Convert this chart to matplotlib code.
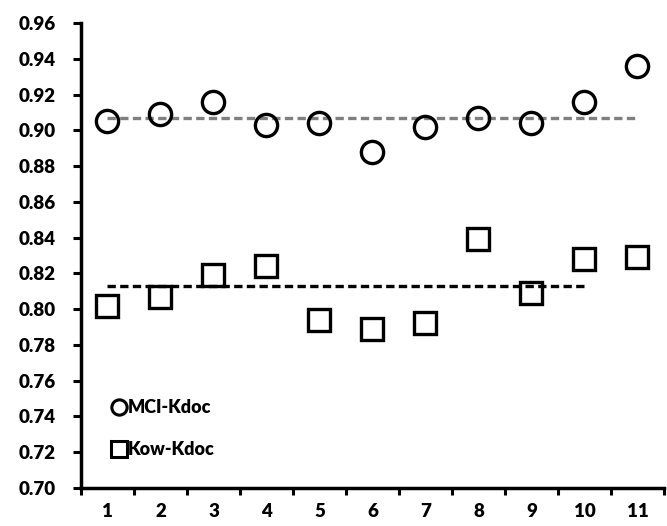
import matplotlib.pyplot as plt
from matplotlib.lines import Line2D
from matplotlib.ticker import FixedLocator, FormatStrFormatter

plt.rcParams['font.family'] = ['Lato', 'DejaVu Sans']

categories = list(range(1, 12))
mci_kdoc = [0.905, 0.909, 0.916, 0.903, 0.904, 0.888, 0.902, 0.907, 0.904, 0.916, 0.936]
kow_kdoc = [0.802, 0.807, 0.819, 0.824, 0.794, 0.789, 0.792, 0.839, 0.809, 0.828, 0.829]
mci_mean = 0.907
kow_mean = 0.813
y_ticks = [0.70, 0.72, 0.74, 0.76, 0.78, 0.80, 0.82, 0.84, 0.86, 0.88, 0.90, 0.92, 0.94, 0.96]


def main():
    fig = plt.figure(figsize=(6.67, 5.26), dpi=100)
    ax = fig.add_axes([0.1214, 0.0722, 0.874, 0.884])

    # mean lines
    ax.plot([categories[0], categories[-1]], [mci_mean, mci_mean],
            ls=(0, (2.5, 1.3)), color='#7f7f7f', lw=2.4, zorder=1)
    ax.plot([categories[0], categories[-2]], [kow_mean, kow_mean],
            ls=(0, (2.5, 1.3)), color='black', lw=2.4, zorder=1)

    ax.plot(categories, mci_kdoc, ls='none', marker='o', ms=16,
            mfc='none', mec='black', mew=2.4, zorder=2)
    ax.plot(categories, kow_kdoc, ls='none', marker='s', ms=16,
            mfc='none', mec='black', mew=2.4, zorder=2)

    ax.set_xlim(0.5, 11.5)
    ax.set_ylim(0.70, 0.96)
    ax.set_yticks(y_ticks)
    ax.yaxis.set_major_formatter(FormatStrFormatter('%.2f'))
    ax.set_xticks(categories)
    ax.set_xticklabels([str(c) for c in categories])
    ax.xaxis.set_minor_locator(FixedLocator([c + 0.5 for c in [0] + categories]))

    for side in ['top', 'right']:
        ax.spines[side].set_visible(False)
    for side in ['left', 'bottom']:
        ax.spines[side].set_linewidth(2.5)

    ax.tick_params(axis='y', which='major', direction='out', length=6,
                   width=2.2, labelsize=13.5, pad=12)
    ax.tick_params(axis='x', which='major', length=0, labelsize=13.5, pad=11)
    ax.tick_params(axis='x', which='minor', direction='out', length=5, width=2.2)
    for lab in ax.get_xticklabels() + ax.get_yticklabels():
        lab.set_fontweight('heavy')

    handles = [
        Line2D([], [], ls='none', marker='o', ms=11, mfc='none', mec='black', mew=2.2),
        Line2D([], [], ls='none', marker='s', ms=11, mfc='none', mec='black', mew=2.2),
    ]
    ax.legend(handles, ['MCI-Kdoc', 'Kow-Kdoc'], loc='lower left',
              bbox_to_anchor=(0.025, 0.03), frameon=False, handlelength=0.8,
              handletextpad=0.1, labelspacing=1.35,
              prop={'weight': 'heavy', 'size': 13})

    fig.savefig('out.png', dpi=100)


if "__main__" == __name__:
    main()
